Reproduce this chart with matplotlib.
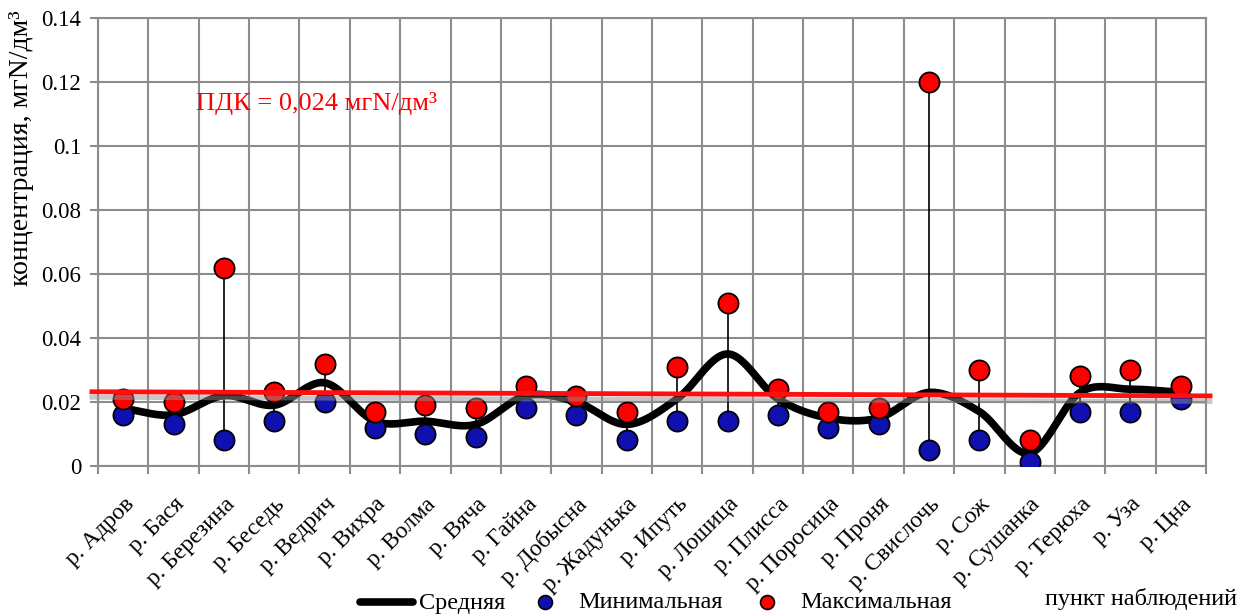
import numpy as np
import matplotlib
matplotlib.use("Agg")
import matplotlib.pyplot as plt
from matplotlib.lines import Line2D
from matplotlib.transforms import ScaledTranslation
import matplotlib.patheffects as pe

plt.rcParams['font.family'] = ['Liberation Serif', 'DejaVu Serif']

rivers = ["р. Адров", "р. Бася", "р. Березина", "р. Беседь", "р. Ведрич", "р. Вихра",
          "р. Волма", "р. Вяча", "р. Гайна", "р. Добысна", "р. Жадунька", "р. Ипуть",
          "р. Лошица", "р. Плисса", "р. Поросица", "р. Проня", "р. Свислочь", "р. Сож",
          "р. Сушанка", "р. Терюха", "р. Уза", "р. Цна"]
mean_vals = [0.018, 0.016, 0.022, 0.019, 0.026, 0.014, 0.014, 0.013, 0.022, 0.020, 0.013,
             0.021, 0.035, 0.021, 0.015, 0.015, 0.023, 0.017, 0.004, 0.023, 0.024, 0.023]
min_vals = [0.016, 0.013, 0.008, 0.014, 0.020, 0.012, 0.010, 0.009, 0.018, 0.016, 0.008,
            0.014, 0.014, 0.016, 0.012, 0.013, 0.005, 0.008, 0.0013, 0.017, 0.017, 0.021]
max_vals = [0.021, 0.020, 0.062, 0.023, 0.032, 0.017, 0.019, 0.018, 0.025, 0.022, 0.017,
            0.031, 0.051, 0.024, 0.017, 0.018, 0.120, 0.030, 0.008, 0.028, 0.030, 0.025]
pdk_line = [0.0232, 0.0219]   # drawn limit line, left and right end
yticks = [0, 0.02, 0.04, 0.06, 0.08, 0.1, 0.12, 0.14]
ytick_labels = ["0", "0.02", "0.04", "0.06", "0.08", "0.1", "0.12", "0.14"]
legend_labels = ["Средняя", "Минимальная", "Максимальная"]

W, H = 1241, 614
BLUE = '#1010b0'
RED = '#ff0000'
GRID = '#8c8c8c'


def smooth(x, y, n=30):
    # catmull-rom spline through the points, like the smoothed line in Excel
    x = np.asarray(x, float)
    y = np.asarray(y, float)
    px = np.concatenate([[2 * x[0] - x[1]], x, [2 * x[-1] - x[-2]]])
    py = np.concatenate([[2 * y[0] - y[1]], y, [2 * y[-1] - y[-2]]])
    xs, ys = [], []
    t = np.linspace(0, 1, n)
    for i in range(1, len(px) - 2):
        for p, out in ((px, xs), (py, ys)):
            p0, p1, p2, p3 = p[i - 1], p[i], p[i + 1], p[i + 2]
            out.extend(0.5 * (2 * p1 + (-p0 + p2) * t + (2 * p0 - 5 * p1 + 4 * p2 - p3) * t ** 2
                              + (-p0 + 3 * p1 - 3 * p2 + p3) * t ** 3))
    return np.array(xs), np.array(ys)


def fx(px):
    return px / W


def fy(py):
    return 1 - py / H


fig = plt.figure(figsize=(W / 100, H / 100), dpi=100)
ax = fig.add_axes([fx(98), fy(466), fx(1206) - fx(98), fy(18) - fy(466)])

x = np.arange(len(rivers))

ax.vlines(x, min_vals, max_vals, color='black', lw=1.2, zorder=3)
sx, sy = smooth(x, mean_vals)
ax.plot(sx, sy, color='black', lw=5.5, solid_capstyle='round', zorder=4)
ax.plot(x, min_vals, 'o', ms=14.5, mfc=BLUE, mec='black', mew=1.3, zorder=5)
ax.plot(x, max_vals, 'o', ms=14.5, mfc=RED, mec='black', mew=1.3, zorder=6)

ax.plot([-0.62, 21.58], pdk_line, color='#ff1010', lw=3.5, zorder=7, clip_on=False,
        path_effects=[pe.SimpleLineShadow(offset=(0, -4), shadow_color='#909090', alpha=0.5),
                      pe.Normal()])
ax.text(1.45, 0.1134, "ПДК = 0,024 мгN/дм³", color=RED, fontsize=19, va='center', ha='left')

ax.set_xlim(-0.5, len(rivers) - 0.5)
ax.set_ylim(0, 0.14)
ax.set_yticks(yticks)
ax.set_yticklabels(ytick_labels, fontsize=16.5)
ax.set_xticks(x)
ax.set_xticklabels(rivers, rotation=45, ha='right', va='top', rotation_mode='anchor', fontsize=17)
for lab in ax.get_xticklabels():
    lab.set_transform(lab.get_transform() + ScaledTranslation(0.02, 0, fig.dpi_scale_trans))
ax.set_xticks(np.arange(len(rivers) + 1) - 0.5, minor=True)
ax.tick_params(axis='x', which='major', length=0, pad=20)
ax.tick_params(axis='x', which='minor', length=6, color=GRID, width=1.5)
ax.tick_params(axis='y', length=6, color=GRID, width=1.5, pad=6)
ax.grid(True, axis='y', which='major', color=GRID, lw=1.5)
ax.grid(True, axis='x', which='minor', color=GRID, lw=1.5)
ax.set_axisbelow(True)
for s in ax.spines.values():
    s.set_color(GRID)
    s.set_linewidth(1.5)

fig.text(fx(22), fy(148), "концентрация, мгN/дм³", rotation=90, ha='center', va='center',
         fontsize=20)
fig.text(fx(1237), fy(599), "пункт наблюдений", ha='right', va='center', fontsize=17.5)

# legend, laid out by hand like the Excel one
ly = fy(602)
fig.add_artist(Line2D([fx(360), fx(413)], [ly, ly], color='black', lw=5.5, solid_capstyle='round'))
fig.add_artist(Line2D([fx(545)], [ly], ls='', marker='o', ms=10, mfc=BLUE, mec='black', mew=1.2))
fig.add_artist(Line2D([fx(767)], [ly], ls='', marker='o', ms=10, mfc=RED, mec='black', mew=1.2))
for left, lab in zip([419, 578, 800], legend_labels):
    fig.text(fx(left), fy(603), lab, ha='left', va='center', fontsize=17.5)

fig.savefig("out.png", dpi=100)
